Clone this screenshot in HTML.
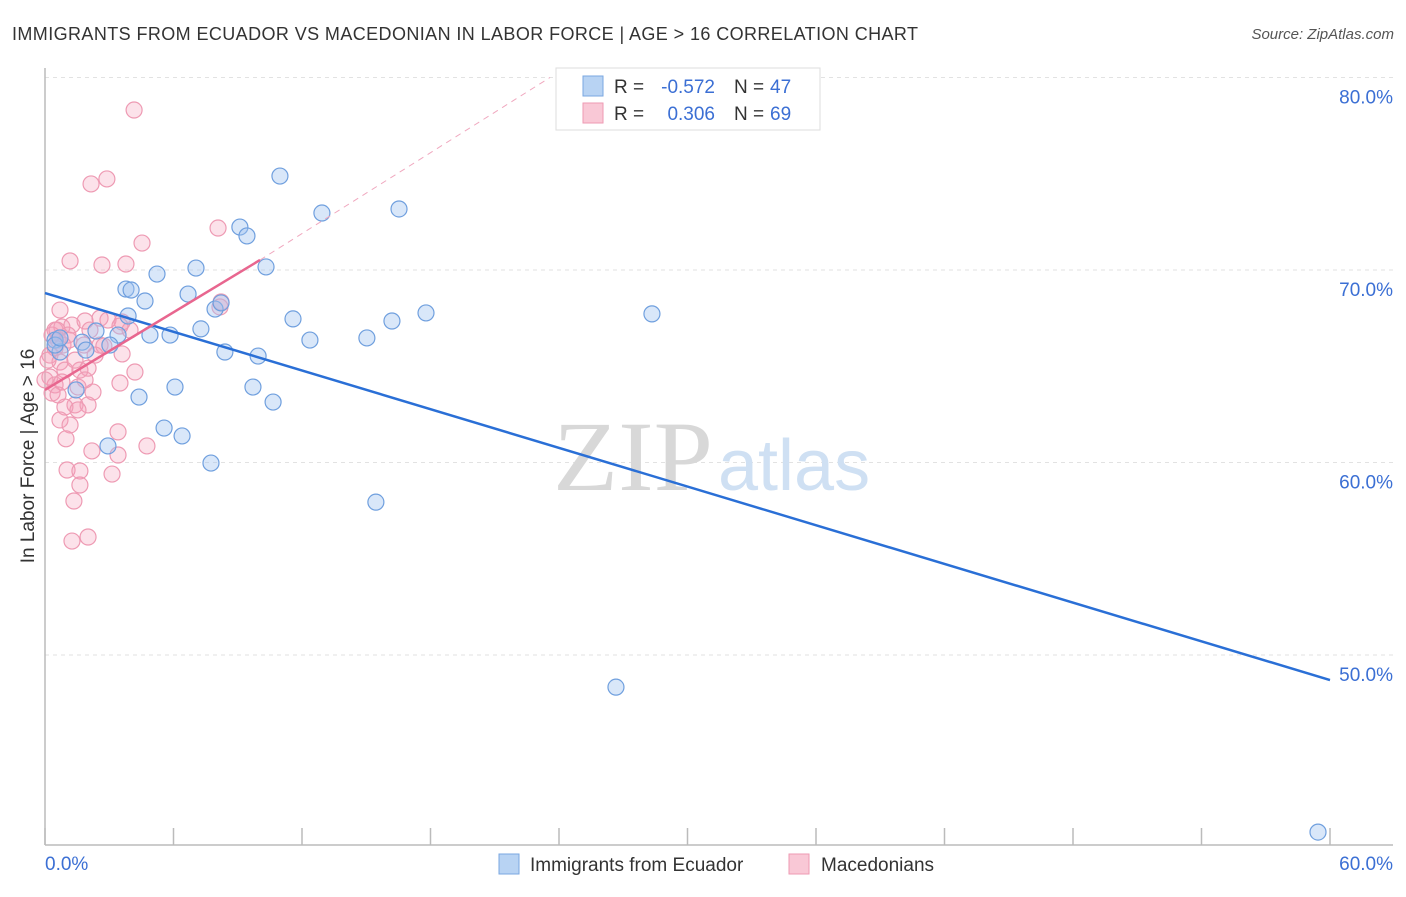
<!DOCTYPE html>
<html><head><meta charset="utf-8"><style>
body{margin:0;background:#fff;font-family:"Liberation Sans",sans-serif;}
</style></head><body>
<svg id="chart" width="1406" height="892" viewBox="0 0 1406 892" xmlns="http://www.w3.org/2000/svg" font-family="Liberation Sans, sans-serif">
<text x="12" y="40" font-size="18" fill="#333" textLength="906" lengthAdjust="spacing">IMMIGRANTS FROM ECUADOR VS MACEDONIAN IN LABOR FORCE | AGE &gt; 16 CORRELATION CHART</text>
<text x="1394" y="39" font-size="15" fill="#555" font-style="italic" text-anchor="end">Source: ZipAtlas.com</text>
<g id="grid"></g>
<g><text x="553" y="490" font-size="100" fill="#d8d8d8" style="font-family:'Liberation Serif',serif" textLength="160" lengthAdjust="spacingAndGlyphs">ZIP</text><text x="718" y="490" font-size="72" fill="#cfe0f3">atlas</text></g>
<line x1="45" y1="68" x2="45" y2="845" stroke="#bbb" stroke-width="1.5"/>
<line x1="45" y1="845" x2="1393" y2="845" stroke="#bbb" stroke-width="1.5"/>
<g id="ticks"></g>
<g id="ylabels"></g>
<text transform="translate(34,456) rotate(-90)" font-size="19" fill="#333" text-anchor="middle">In Labor Force | Age &gt; 16</text>
<text x="45" y="870" font-size="19" fill="#3b6fd4">0.0%</text>
<text x="1393" y="870" font-size="19" fill="#3b6fd4" text-anchor="end">60.0%</text>
<g id="pink"></g>
<g id="blue"></g>
<g id="trends"></g>
<g>
<rect x="556" y="68" width="264" height="62" fill="#fff" stroke="#ddd"/>
<rect x="583" y="76" width="20" height="20" fill="#b8d3f3" stroke="#7aa7e0"/>
<rect x="583" y="103" width="20" height="20" fill="#f9c8d6" stroke="#ee9ab3"/>
<text x="614" y="93" font-size="19" fill="#333">R =</text>
<text x="715" y="93" font-size="19" fill="#3b6fd4" text-anchor="end">-0.572</text>
<text x="734" y="93" font-size="19" fill="#333">N =</text>
<text x="770" y="93" font-size="19" fill="#3b6fd4">47</text>
<text x="614" y="120" font-size="19" fill="#333">R =</text>
<text x="715" y="120" font-size="19" fill="#3b6fd4" text-anchor="end">0.306</text>
<text x="734" y="120" font-size="19" fill="#333">N =</text>
<text x="770" y="120" font-size="19" fill="#3b6fd4">69</text>
</g>
<g>
<rect x="499" y="854" width="20" height="20" fill="#b8d3f3" stroke="#7aa7e0"/>
<text x="530" y="871" font-size="19" fill="#333">Immigrants from Ecuador</text>
<rect x="789" y="854" width="20" height="20" fill="#f9c8d6" stroke="#ee9ab3"/>
<text x="821" y="871" font-size="19" fill="#333">Macedonians</text>
</g>
</svg>
<script>
const yTicks=[50,60,70,80];
const yTickLabels=["50.0%","60.0%","70.0%","80.0%"];
const xTicks=[0,6,12,18,24,30,36,42,48,54,60];
const blueX=[10.97,12.93,16.53,9.10,9.43,5.23,7.05,10.32,3.78,4.02,6.68,4.67,7.94,8.22,11.58,17.79,28.34,16.20,7.28,2.38,4.90,5.84,12.37,15.03,3.41,0.47,1.73,1.91,3.03,8.40,9.95,0.70,6.07,9.71,4.39,10.65,1.45,5.56,6.40,2.94,7.75,15.45,26.66,59.44,0.47,3.88,0.70];
const blueY=[74.88,72.96,73.17,72.23,71.77,69.79,70.10,70.16,69.01,68.96,68.75,68.39,67.97,68.29,67.46,67.77,67.72,67.35,66.94,66.83,66.62,66.62,66.36,66.47,66.62,66.36,66.25,65.84,66.10,65.74,65.53,65.74,63.92,63.92,63.40,63.14,63.77,61.79,61.38,60.86,59.97,57.94,48.33,40.80,66.10,67.61,66.47];
const pinkX=[4.16,2.15,2.89,8.08,4.53,1.17,2.66,3.78,8.22,8.17,0.47,0.79,1.26,1.87,0.61,1.07,2.57,3.60,3.97,0.23,0.70,0.93,1.63,2.01,4.20,0.23,0.47,0.79,1.54,2.24,3.50,0.33,1.40,0.93,2.01,0.70,1.17,3.41,0.98,4.76,2.19,3.41,1.03,1.63,3.13,1.63,1.35,1.26,2.01,3.60,2.57,0.47,0.14,0.84,2.10,2.94,1.40,0.33,0,0.61,1.87,2.75,1.12,3.50,0.56,1.54,2.34,1.82,0.70];
const pinkY=[78.31,74.47,74.73,72.18,71.40,70.47,70.26,70.31,68.34,68.08,66.88,67.04,67.14,67.35,66.36,66.62,67.50,67.30,66.88,65.58,65.22,64.80,64.80,64.90,64.70,64.44,64.03,64.18,63.92,63.66,64.13,63.61,62.99,62.88,62.99,62.21,61.95,61.59,61.23,60.86,60.60,60.39,59.61,59.56,59.40,58.83,58.00,55.92,56.13,65.64,66.10,65.95,65.32,66.10,66.88,67.40,65.32,66.62,64.29,63.51,64.29,66.05,66.36,67.09,66.88,62.73,65.58,66.10,67.92];
const blueTrend=[[0,68.80],[60,48.70]];
const pinkTrend=[[0,63.77],[10.04,70.52]];
const pinkDash=[[10.04,70.52],[23.58,80]];
const NS="http://www.w3.org/2000/svg";
const sx=v=>45+v*(1285/60);
const sy=v=>77.5+(80-v)*19.25;
function mk(t,a,p){const e=document.createElementNS(NS,t);for(const k in a)e.setAttribute(k,a[k]);p.appendChild(e);return e;}
const grid=document.getElementById('grid'),yl=document.getElementById('ylabels'),tk=document.getElementById('ticks');
yTicks.forEach((v,i)=>{
 const l=mk('line',{x1:45,x2:1393,y1:sy(v),y2:sy(v),stroke:'#e2e2e2','stroke-dasharray':'4,4'},grid);
 
 
 const t=mk('text',{x:1393,y:sy(v)+26,'font-size':19,fill:'#3b6fd4','text-anchor':'end'},yl);
 t.textContent=yTickLabels[i];
 
 
});
xTicks.forEach(v=>{
 const l=mk('line',{x1:sx(v),x2:sx(v),y1:828,y2:845,stroke:'#bbb','stroke-width':1.5},tk);
 
 
});
function pts(xs,ys,g,fill,stroke){xs.forEach((x,i)=>{
 const c=mk('circle',{cx:sx(x),cy:sy(ys[i]),r:8,fill:fill,stroke:stroke,'stroke-width':1.2},g);
 
 
});}
pts(pinkX,pinkY,document.getElementById('pink'),'rgba(244,160,185,0.3)','#ee9ab3');
pts(blueX,blueY,document.getElementById('blue'),'rgba(160,196,240,0.4)','#6f9fde');
const tr=document.getElementById('trends');
const b=mk('line',{x1:sx(blueTrend[0][0]),y1:sy(blueTrend[0][1]),x2:sx(blueTrend[1][0]),y2:sy(blueTrend[1][1]),stroke:'#2a6fd6','stroke-width':2.5},tr);


const p=mk('line',{x1:sx(pinkTrend[0][0]),y1:sy(pinkTrend[0][1]),x2:sx(pinkTrend[1][0]),y2:sy(pinkTrend[1][1]),stroke:'#e8668f','stroke-width':2.5},tr);


const d=mk('line',{x1:sx(pinkDash[0][0]),y1:sy(pinkDash[0][1]),x2:sx(pinkDash[1][0]),y2:sy(pinkDash[1][1]),stroke:'#f0a8bf','stroke-width':1,'stroke-dasharray':'6,5'},tr);


</script>
</body></html>
